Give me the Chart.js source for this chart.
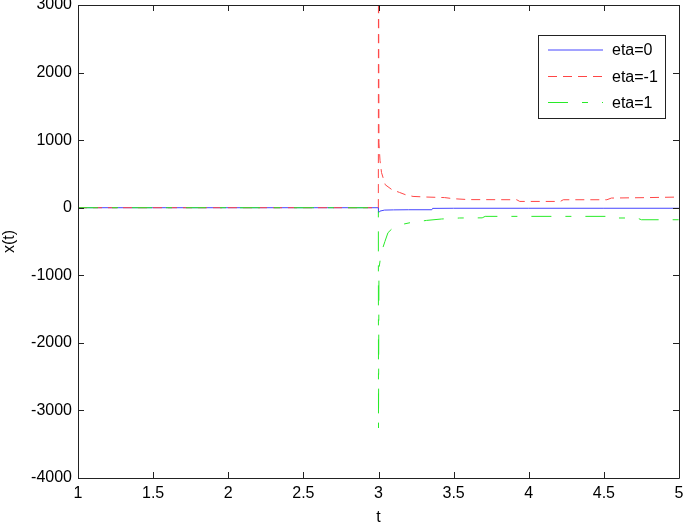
<!DOCTYPE html>
<html lang="en">
<head>
  <meta charset="UTF-8">
  <title>x(t) for different eta</title>
  <script src="https://cdn.jsdelivr.net/npm/chart.js"></script>
  <style>
    body { margin: 0; background: #fff; }
    #wrap { width: 685px; height: 524px; }
  </style>
</head>
<body>
  <div id="wrap"><canvas id="chart" width="685" height="524"></canvas></div>

  <script>
    // data
    const xTicks = [1, 1.5, 2, 2.5, 3, 3.5, 4, 4.5, 5];
    const yTicks = [-4000, -3000, -2000, -1000, 0, 1000, 2000, 3000];
    const seriesLabels = ['eta=0', 'eta=-1', 'eta=1'];

    // eta=0
    const tZero = [1, 2.999, 3.0, 3.01, 3.04, 3.1, 3.2, 3.355, 3.36, 3.5, 4, 4.5, 5];
    const xZero = [0, 0, -75, -50, -35, -32, -30, -30, -10, -8, -8, -8, -8];

    // eta=-1
    const tNeg = [1, 2.999, 3.0, 3.003, 3.01, 3.02, 3.045, 3.09, 3.14, 3.18, 3.23, 3.32, 3.44, 3.5, 3.6, 3.92, 3.94, 4.21, 4.23, 4.52, 4.55, 4.8, 5];
    const xNeg = [0, 0, 4500, 960, 700, 520, 340, 266, 226, 192, 167, 158, 150, 133, 120, 118, 93, 93, 118, 118, 143, 150, 158];

    // eta=1
    const tPos = [1, 2.999, 3.0, 3.003, 3.012, 3.025, 3.043, 3.063, 3.097, 3.15, 3.21, 3.32, 3.42, 3.54, 3.69, 3.71, 4.54, 4.56, 4.72, 4.75, 5];
    const xPos = [0, 0, -3260, -900, -760, -620, -498, -370, -296, -250, -222, -188, -167, -152, -150, -128, -128, -152, -152, -178, -178];

    function toPoints(ts, xs) {
      return ts.map((t, i) => ({ x: t, y: xs[i] }));
    }

    const FONT = 'Liberation Sans, Arial, Helvetica, sans-serif';

    // box around the axes, inward ticks on all four sides, MATLAB style
    const framePlugin = {
      id: 'frame',
      afterDatasetsDraw(chart) {
        const ctx = chart.ctx;
        const a = chart.chartArea;
        const sx = chart.scales.x, sy = chart.scales.y;
        const len = 6;
        ctx.save();
        ctx.strokeStyle = '#222';
        ctx.lineWidth = 1;
        ctx.beginPath();
        ctx.rect(Math.round(a.left) + 0.5, Math.round(a.top) + 0.5,
                 Math.round(a.right - a.left), Math.round(a.bottom - a.top));
        for (const v of xTicks) {
          const px = Math.round(sx.getPixelForValue(v)) + 0.5;
          ctx.moveTo(px, a.bottom); ctx.lineTo(px, a.bottom - len);
          ctx.moveTo(px, a.top); ctx.lineTo(px, a.top + len);
        }
        for (const v of yTicks) {
          const py = Math.round(sy.getPixelForValue(v)) + 0.5;
          ctx.moveTo(a.left, py); ctx.lineTo(a.left + len, py);
          ctx.moveTo(a.right, py); ctx.lineTo(a.right - len, py);
        }
        ctx.stroke();
        ctx.restore();
      }
    };

    // legend box in the upper right corner of the axes
    const boxLegend = {
      id: 'boxLegend',
      afterDraw(chart) {
        const ctx = chart.ctx;
        const bx = 538.5, by = 35.5, bw = 127, bh = 83;
        const rows = [50, 76.5, 102.5];
        ctx.save();
        ctx.fillStyle = '#fff';
        ctx.fillRect(bx, by, bw, bh);
        ctx.strokeStyle = '#222';
        ctx.lineWidth = 1;
        ctx.strokeRect(bx, by, bw, bh);
        chart.data.datasets.forEach((ds, i) => {
          const y = rows[i];
          ctx.strokeStyle = ds.borderColor;
          ctx.lineWidth = ds.borderWidth;
          ctx.setLineDash(ds.borderDash || []);
          ctx.beginPath();
          ctx.moveTo(548, y);
          ctx.lineTo(603, y);
          ctx.stroke();
          ctx.setLineDash([]);
          ctx.fillStyle = '#000';
          ctx.font = '16px ' + FONT;
          ctx.textBaseline = 'middle';
          ctx.fillText(ds.label, 612, y + 1);
        });
        ctx.restore();
      }
    };

    const ctx = document.getElementById('chart').getContext('2d');
    new Chart(ctx, {
      type: 'line',
      data: {
        datasets: [
          {
            label: seriesLabels[0],
            data: toPoints(tZero, xZero),
            borderColor: 'rgb(70,70,255)',
            borderWidth: 1,
            pointRadius: 0,
            tension: 0,
            order: 3
          },
          {
            label: seriesLabels[1],
            data: toPoints(tNeg, xNeg),
            borderColor: 'rgb(255,70,70)',
            borderWidth: 1,
            borderDash: [9, 6],
            pointRadius: 0,
            tension: 0,
            order: 2
          },
          {
            label: seriesLabels[2],
            data: toPoints(tPos, xPos),
            borderColor: 'rgb(40,235,40)',
            borderWidth: 1,
            borderDash: [20, 14, 6, 14],
            pointRadius: 0,
            tension: 0,
            order: 1
          }
        ]
      },
      options: {
        responsive: false,
        animation: false,
        layout: { padding: { top: 5, right: 6, left: 0, bottom: 0 } },
        plugins: {
          legend: { display: false },
          tooltip: { enabled: false }
        },
        scales: {
          x: {
            type: 'linear',
            min: 1,
            max: 5,
            afterBuildTicks(scale) { scale.ticks = xTicks.map(v => ({ value: v })); },
            afterFit(scale) { scale.height = 46; scale.paddingLeft = 0; scale.paddingRight = 0; },
            grid: { display: false, drawTicks: false },
            border: { display: false },
            ticks: {
              color: '#000',
              padding: 6,
              font: { family: FONT, size: 16 },
              maxRotation: 0,
              callback: v => String(v)
            },
            title: {
              display: true,
              text: 't',
              color: '#000',
              font: { family: FONT, size: 16 },
              padding: { top: 0, bottom: -3 }
            }
          },
          y: {
            type: 'linear',
            min: -4000,
            max: 3000,
            afterBuildTicks(scale) { scale.ticks = yTicks.map(v => ({ value: v })); },
            afterFit(scale) { scale.width = 78; scale.paddingTop = 0; scale.paddingBottom = 0; },
            grid: { display: false, drawTicks: false },
            border: { display: false },
            ticks: {
              color: '#000',
              padding: 6,
              font: { family: FONT, size: 16 },
              callback: v => String(v)
            },
            title: {
              display: true,
              text: 'x(t)',
              color: '#000',
              font: { family: FONT, size: 16 },
              padding: { top: 0, bottom: 0 }
            }
          }
        }
      },
      plugins: [framePlugin, boxLegend]
    });
  </script>
</body>
</html>
